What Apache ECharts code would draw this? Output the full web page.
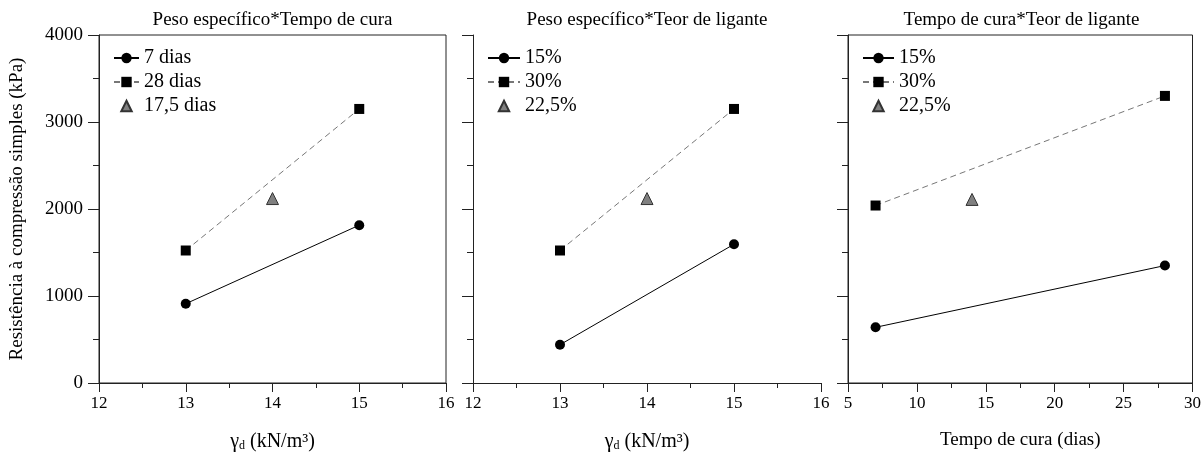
<!DOCTYPE html>
<html>
<head>
<meta charset="utf-8">
<script src="https://cdn.jsdelivr.net/npm/echarts@6/dist/echarts.min.js"></script>
<style>
  html, body { margin: 0; padding: 0; background: #fff; }
  #chart { width: 1204px; height: 457px; }
</style>
</head>
<body>
<div id="chart"></div>
<script>
// Unconfined compressive strength (kPa) for the three two-factor interactions
const densityX = [13, 15];          // dry unit weight, kN/m³
const cureX = [7, 28];              // curing time, days

// Panel 1: unit weight x curing time
const strength7d = [911, 1814];
const strength28d = [1523, 3150];
const center175d = [[14, 2120]];

// Panel 2: unit weight x binder content
const binder15Density = [440, 1595];
const binder30Density = [1523, 3150];
const binder225Density = [[14, 2120]];

// Panel 3: curing time x binder content
const binder15Cure = [640, 1350];
const binder30Cure = [2040, 3300];
const binder225Cure = [[14, 2110]];

const panelTitles = [
  'Peso específico*Tempo de cura',
  'Peso específico*Teor de ligante',
  'Tempo de cura*Teor de ligante'
];
const legendNames = [
  ['7 dias', '28 dias', '17,5 dias'],
  ['15%', '30%', '22,5%'],
  ['15%', '30%', '22,5%']
];
const xNames = ['γ{sub|d} (kN/m³)', 'γ{sub|d} (kN/m³)', 'Tempo de cura (dias)'];
const yName = 'Resistência à compressão simples (kPa)';

const FONT = '"Liberation Serif", "DejaVu Serif", serif';
const INK = '#222';

const pair = (xs, ys) => xs.map((x, i) => [x, ys[i]]);

const grids = [
  { left: 99, right: 758, top: 35, bottom: 74, show: true, borderColor: INK, borderWidth: 1 },
  { left: 473, right: 383, top: 35, bottom: 74 },
  { left: 848, right: 9, top: 35, bottom: 74, show: true, borderColor: INK, borderWidth: 1 }
];

const xRanges = [
  { min: 12, max: 16, interval: 1 },
  { min: 12, max: 16, interval: 1 },
  { min: 5, max: 30, interval: 5 }
];

const xAxes = xRanges.map((r, i) => ({
  type: 'value',
  gridIndex: i,
  min: r.min, max: r.max, interval: r.interval,
  name: xNames[i],
  nameLocation: 'middle',
  nameGap: 48,
  nameTextStyle: {
    fontFamily: FONT, fontSize: i === 2 ? 19 : 20, color: '#000',
    rich: { sub: { fontFamily: FONT, fontSize: 12, color: '#000', verticalAlign: 'bottom', padding: [9, 0, 0, 0] } }
  },
  axisLine: { show: true, onZero: false, lineStyle: { color: INK, width: 1 } },
  axisTick: { show: true, inside: false, length: 9, lineStyle: { color: INK } },
  minorTick: { show: true, splitNumber: 2, length: 5, lineStyle: { color: INK } },
  splitLine: { show: false },
  axisLabel: { fontFamily: FONT, fontSize: 17, color: '#000', margin: 12, showMinLabel: true, showMaxLabel: true }
}));

const yAxes = [0, 1, 2].map(i => ({
  type: 'value',
  gridIndex: i,
  min: 0, max: 4000, interval: 1000,
  name: i === 0 ? yName : '',
  nameLocation: 'middle',
  nameGap: 72,
  nameRotate: 90,
  nameTextStyle: { fontFamily: FONT, fontSize: 19, color: '#000' },
  axisLine: { show: true, onZero: false, lineStyle: { color: INK, width: 1 } },
  axisTick: { show: true, inside: false, length: 11, lineStyle: { color: INK } },
  minorTick: { show: true, splitNumber: 2, length: 6, lineStyle: { color: INK } },
  splitLine: { show: false },
  axisLabel: {
    show: i === 0, fontFamily: FONT, fontSize: 19, color: '#000', margin: 16,
    formatter: v => String(v)
  }
}));

function solidSeries(name, idx, data) {
  return {
    name, type: 'line', xAxisIndex: idx, yAxisIndex: idx, data,
    symbol: 'circle', symbolSize: 10,
    itemStyle: { color: '#000' },
    lineStyle: { color: '#000', width: 1, type: 'solid' },
    z: 3
  };
}
function dashedSeries(name, idx, data) {
  return {
    name, type: 'line', xAxisIndex: idx, yAxisIndex: idx, data,
    symbol: 'rect', symbolSize: 10,
    itemStyle: { color: '#000' },
    lineStyle: { color: '#777', width: 1, type: [6, 4] },
    z: 3
  };
}
// Centre point: a single marker with no connecting line
function centerSeries(name, idx, data) {
  return {
    name, type: 'line', xAxisIndex: idx, yAxisIndex: idx, data,
    symbol: 'triangle', symbolSize: 12,
    itemStyle: { color: '#808080', borderColor: '#333', borderWidth: 1 },
    lineStyle: { opacity: 0, width: 0 },
    z: 3
  };
}

const series = [
  solidSeries(legendNames[0][0], 0, pair(densityX, strength7d)),
  dashedSeries(legendNames[0][1], 0, pair(densityX, strength28d)),
  centerSeries(legendNames[0][2], 0, center175d),
  solidSeries(legendNames[1][0], 1, pair(densityX, binder15Density)),
  dashedSeries(legendNames[1][1], 1, pair(densityX, binder30Density)),
  centerSeries(legendNames[1][2], 1, binder225Density),
  solidSeries(legendNames[2][0], 2, pair(cureX, binder15Cure)),
  dashedSeries(legendNames[2][1], 2, pair(cureX, binder30Cure)),
  centerSeries(legendNames[2][2], 2, binder225Cure)
];

const legendLeft = [113, 487, 862];
const legendIconWidth = [25, 32, 31];
const legends = legendNames.map((names, i) => ({
  data: names,
  orient: 'vertical',
  left: legendLeft[i],
  top: 48,
  padding: 0,
  itemWidth: legendIconWidth[i],
  itemHeight: 13,
  itemGap: 4,
  selectedMode: false,
  textStyle: { fontFamily: FONT, fontSize: 20, color: '#000' }
}));

const titleCenters = [272.5, 647, 1021.5];
const titles = panelTitles.map((t, i) => ({
  text: t,
  left: titleCenters[i],
  top: 11,
  textAlign: 'center',
  padding: 0,
  textStyle: { fontFamily: FONT, fontSize: 19, fontWeight: 'normal', color: '#000' }
}));

const chart = echarts.init(document.getElementById('chart'), null, { renderer: 'canvas' });
chart.setOption({
  backgroundColor: '#fff',
  animation: false,
  title: titles,
  legend: legends,
  grid: grids,
  xAxis: xAxes,
  yAxis: yAxes,
  series
});
</script>
</body>
</html>
